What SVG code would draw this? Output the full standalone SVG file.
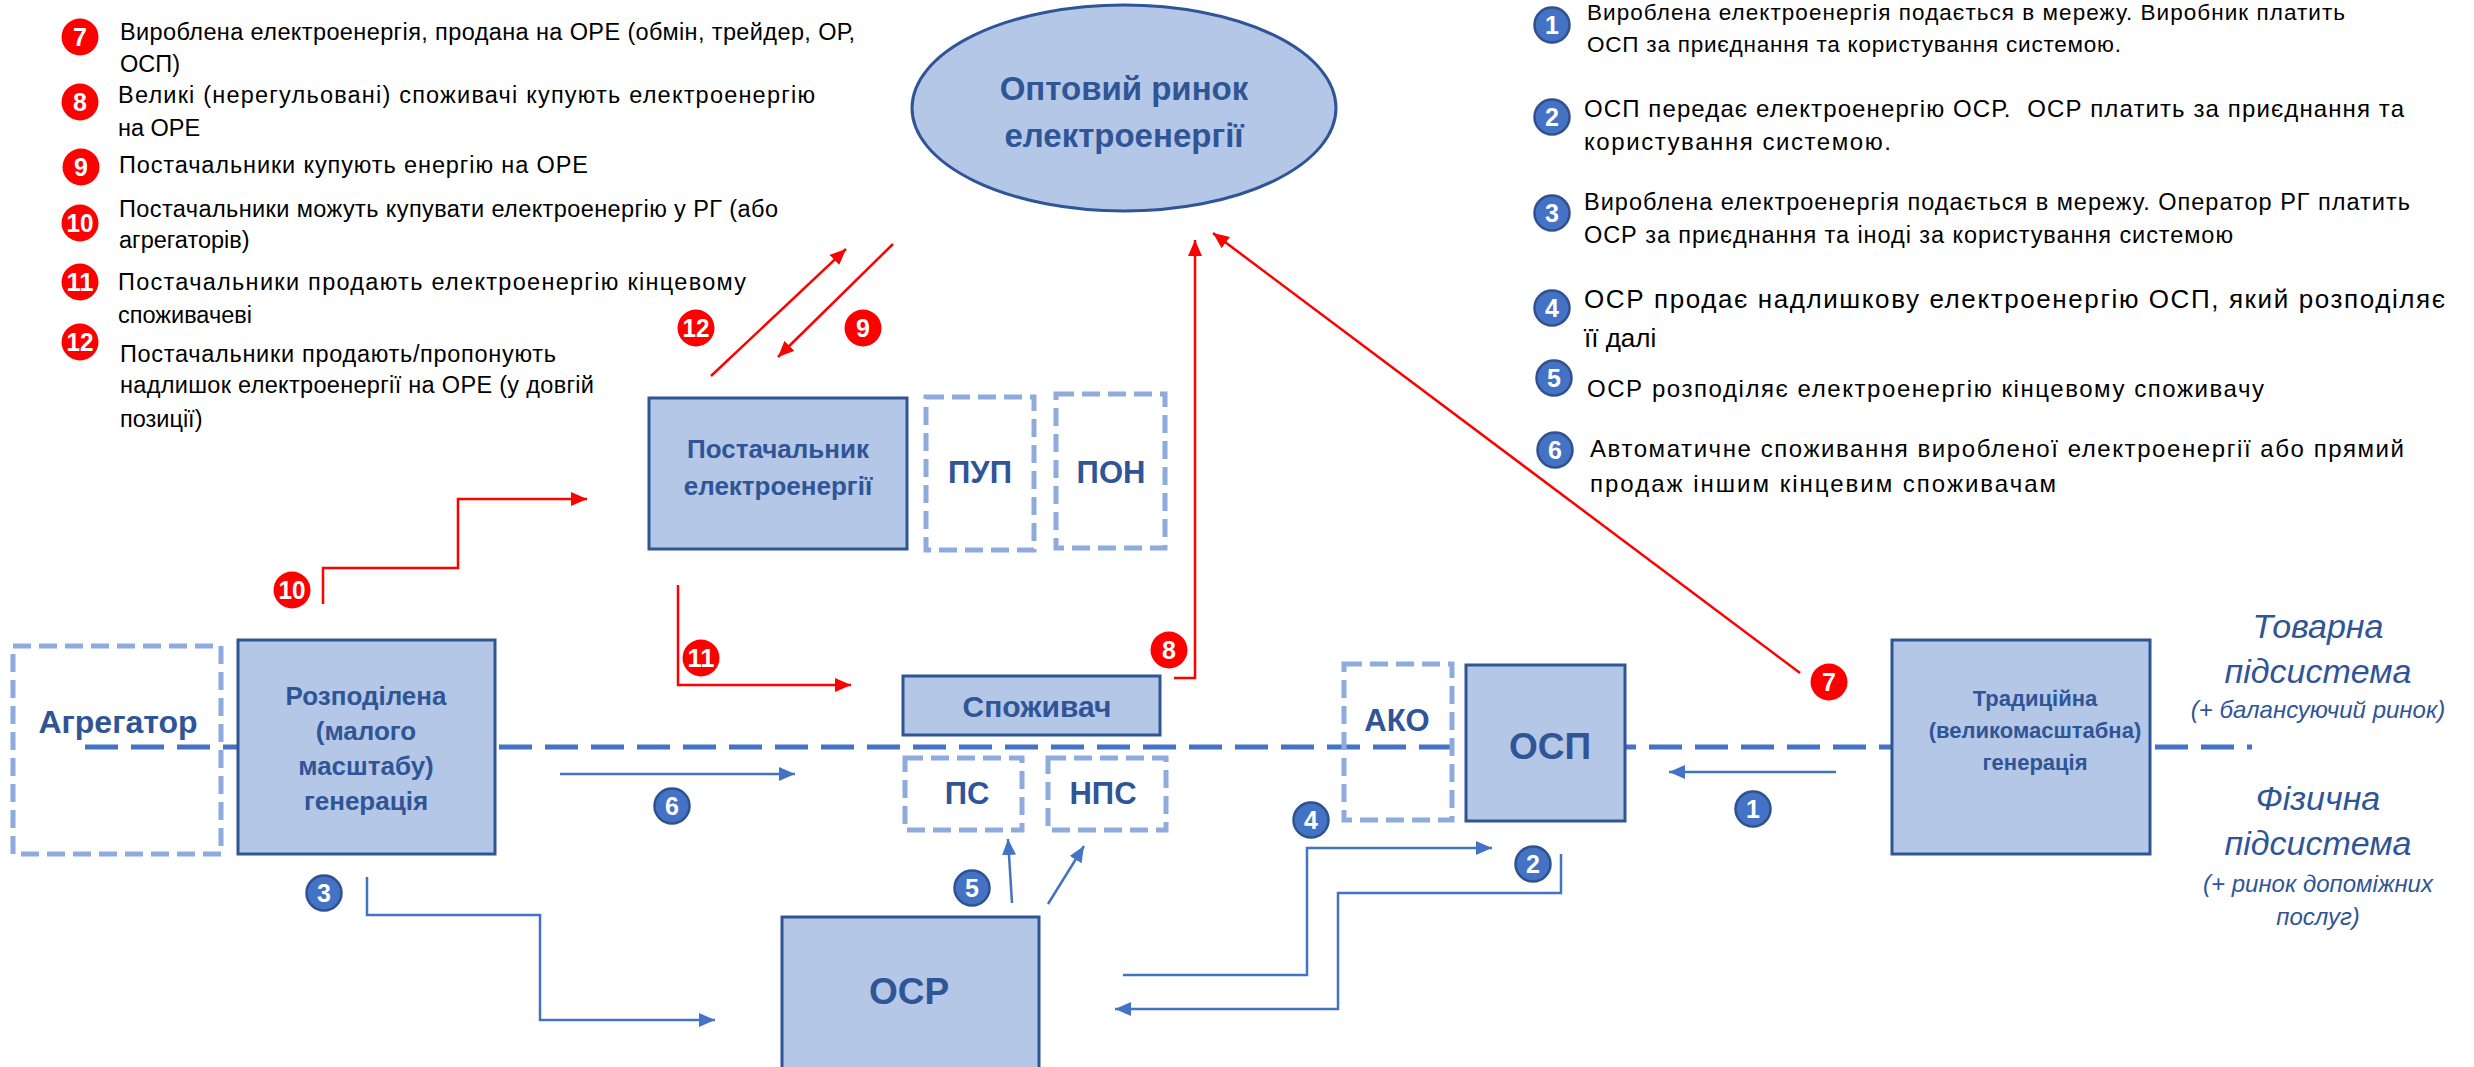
<svg xmlns="http://www.w3.org/2000/svg" width="2474" height="1067" viewBox="0 0 2474 1067">
<style>
.box{fill:#B4C7E7;stroke:#2F5597;stroke-width:3}
.dbox{fill:none;stroke:#8FAADC;stroke-width:5;stroke-dasharray:18 8}
.nt{font-family:"Liberation Sans",Arial,sans-serif;font-weight:bold;fill:#2F5597;text-anchor:middle}
.it{font-family:"Liberation Sans",Arial,sans-serif;font-style:italic;fill:#2F5597;text-anchor:middle}
.lt{font-family:"Liberation Sans",Arial,sans-serif;fill:#000}
.red{fill:none;stroke:#FF0000;stroke-width:2.5}
.blue{fill:none;stroke:#4472C4;stroke-width:2.5}
.rb{fill:#FF0000}
.bb{fill:#4472C4;stroke:#2F528F;stroke-width:2.5}
.bn{font-family:"Liberation Sans",Arial,sans-serif;font-weight:bold;fill:#fff;text-anchor:middle;font-size:25px}
</style>
<defs>
<marker id="ar" viewBox="0 0 16 14" refX="16" refY="7" markerWidth="16" markerHeight="14" markerUnits="userSpaceOnUse" orient="auto"><path d="M0,0 L16,7 L0,14 z" fill="#FF0000"/></marker>
<marker id="ab" viewBox="0 0 16 14" refX="16" refY="7" markerWidth="16" markerHeight="14" markerUnits="userSpaceOnUse" orient="auto"><path d="M0,0 L16,7 L0,14 z" fill="#4472C4"/></marker>
</defs>
<rect width="2474" height="1067" fill="#fff"/>

<!-- subsystem divider -->
<line x1="85" y1="747" x2="2252" y2="747" stroke="#4472C4" stroke-width="5" stroke-dasharray="33 13"/>

<g id="market">
<ellipse cx="1124" cy="108" rx="212" ry="103" class="box"/>
<text class="nt" font-size="33" x="1124" y="100">Оптовий ринок</text>
<text class="nt" font-size="33" x="1124" y="147">електроенергії</text>
</g>
<g id="supplier">
<rect x="649" y="398" width="258" height="151" class="box"/>
<text class="nt" font-size="26" x="778" y="458">Постачальник</text>
<text class="nt" font-size="26" x="778" y="495">електроенергії</text>
</g>
<g id="pup">
<rect x="926" y="397" width="108" height="153" class="dbox"/>
<text class="nt" font-size="31" x="980" y="483">ПУП</text>
</g>
<g id="pon">
<rect x="1056" y="394" width="109" height="154" class="dbox"/>
<text class="nt" font-size="31" x="1111" y="483">ПОН</text>
</g>
<g id="aggregator">
<rect x="13" y="646" width="208" height="208" class="dbox"/>
<text class="nt" font-size="32" x="118" y="733">Агрегатор</text>
</g>
<g id="distgen">
<rect x="238" y="640" width="257" height="214" class="box"/>
<text class="nt" font-size="26" x="366" y="705">Розподілена</text>
<text class="nt" font-size="26" x="366" y="740">(малого</text>
<text class="nt" font-size="26" x="366" y="775">масштабу)</text>
<text class="nt" font-size="26" x="366" y="810">генерація</text>
</g>
<g id="consumer">
<rect x="903" y="676" width="257" height="59" class="box"/>
<text class="nt" font-size="30" x="1037" y="717">Споживач</text>
</g>
<g id="ps">
<rect x="905" y="758" width="117" height="72" class="dbox"/>
<text class="nt" font-size="31" x="967" y="804">ПС</text>
</g>
<g id="nps">
<rect x="1048" y="758" width="118" height="72" class="dbox"/>
<text class="nt" font-size="31" x="1103" y="804">НПС</text>
</g>
<g id="osr">
<rect x="782" y="917" width="257" height="170" class="box"/>
<text class="nt" font-size="37" x="909" y="1004">ОСР</text>
</g>
<g id="ako">
<rect x="1344" y="664" width="108" height="156" class="dbox"/>
<text class="nt" font-size="31" x="1397" y="731">АКО</text>
</g>
<g id="osp">
<rect x="1466" y="665" width="159" height="156" class="box"/>
<text class="nt" font-size="37" x="1550" y="759">ОСП</text>
</g>
<g id="tradgen">
<rect x="1892" y="640" width="258" height="214" class="box"/>
<text class="nt" font-size="22" x="2035" y="706">Традиційна</text>
<text class="nt" font-size="22" x="2035" y="738">(великомасштабна)</text>
<text class="nt" font-size="22" x="2035" y="770">генерація</text>
</g>

<g id="connectors">
<line class="red" x1="711" y1="376" x2="846" y2="249" marker-end="url(#ar)"/>
<line class="red" x1="893" y1="244" x2="778" y2="357" marker-end="url(#ar)"/>
<polyline class="red" points="323,604 323,568 458,568 458,499 587,499" marker-end="url(#ar)"/>
<polyline class="red" points="678,585 678,685 851,685" marker-end="url(#ar)"/>
<polyline class="red" points="1174,678 1195,678 1195,240" marker-end="url(#ar)"/>
<line class="red" x1="1800" y1="673" x2="1213" y2="233" marker-end="url(#ar)"/>
<line class="blue" x1="560" y1="774" x2="795" y2="774" marker-end="url(#ab)"/>
<polyline class="blue" points="367,877 367,915 540,915 540,1020 715,1020" marker-end="url(#ab)"/>
<line class="blue" x1="1012" y1="903" x2="1008" y2="839" marker-end="url(#ab)"/>
<line class="blue" x1="1048" y1="904" x2="1084" y2="846" marker-end="url(#ab)"/>
<polyline class="blue" points="1123,975 1307,975 1307,848 1492,848" marker-end="url(#ab)"/>
<polyline class="blue" points="1561,854 1561,893 1338,893 1338,1009 1115,1009" marker-end="url(#ab)"/>
<line class="blue" x1="1836" y1="772" x2="1669" y2="772" marker-end="url(#ab)"/>
</g>

<g id="diagram-badges">
<circle class="rb" cx="696" cy="328" r="18.5"/><text class="bn" x="696" y="337" textLength="27" lengthAdjust="spacingAndGlyphs">12</text>
<circle class="rb" cx="863" cy="328" r="18.5"/><text class="bn" x="863" y="337">9</text>
<circle class="rb" cx="292" cy="590" r="18.5"/><text class="bn" x="292" y="599" textLength="27" lengthAdjust="spacingAndGlyphs">10</text>
<circle class="rb" cx="701" cy="658" r="18.5"/><text class="bn" x="701" y="667" textLength="27" lengthAdjust="spacingAndGlyphs">11</text>
<circle class="rb" cx="1169" cy="650" r="18.5"/><text class="bn" x="1169" y="659">8</text>
<circle class="rb" cx="1829" cy="682" r="18.5"/><text class="bn" x="1829" y="691">7</text>
<circle class="bb" cx="672" cy="806" r="17.5"/><text class="bn" x="672" y="815">6</text>
<circle class="bb" cx="324" cy="893" r="17.5"/><text class="bn" x="324" y="902">3</text>
<circle class="bb" cx="972" cy="888" r="17.5"/><text class="bn" x="972" y="897">5</text>
<circle class="bb" cx="1311" cy="820" r="17.5"/><text class="bn" x="1311" y="829">4</text>
<circle class="bb" cx="1533" cy="864" r="17.5"/><text class="bn" x="1533" y="873">2</text>
<circle class="bb" cx="1753" cy="809" r="17.5"/><text class="bn" x="1753" y="818">1</text>
</g>

<g id="legend-left">
<circle class="rb" cx="80" cy="37" r="18.5"/><text class="bn" x="80" y="46">7</text>
<circle class="rb" cx="80" cy="102" r="18.5"/><text class="bn" x="80" y="111">8</text>
<circle class="rb" cx="81" cy="167" r="18.5"/><text class="bn" x="81" y="176">9</text>
<circle class="rb" cx="80" cy="223" r="18.5"/><text class="bn" x="80" y="232" textLength="27" lengthAdjust="spacingAndGlyphs">10</text>
<circle class="rb" cx="80" cy="282" r="18.5"/><text class="bn" x="80" y="291" textLength="27" lengthAdjust="spacingAndGlyphs">11</text>
<circle class="rb" cx="80" cy="342" r="18.5"/><text class="bn" x="80" y="351" textLength="27" lengthAdjust="spacingAndGlyphs">12</text>
<text class="lt" font-size="23.5" x="120" y="40" textLength="735">Вироблена електроенергія, продана на ОРЕ (обмін, трейдер, ОР,</text>
<text class="lt" font-size="23.5" x="120" y="72">ОСП)</text>
<text class="lt" font-size="23.5" x="118" y="103" textLength="697">Великі (нерегульовані) споживачі купують електроенергію</text>
<text class="lt" font-size="23.5" x="118" y="136">на ОРЕ</text>
<text class="lt" font-size="23.5" x="119" y="173" textLength="469">Постачальники купують енергію на ОРЕ</text>
<text class="lt" font-size="23.5" x="119" y="217" textLength="659">Постачальники можуть купувати електроенергію у РГ (або</text>
<text class="lt" font-size="23.5" x="119" y="248">агрегаторів)</text>
<text class="lt" font-size="23.5" x="118" y="290" textLength="628">Постачальники продають електроенергію кінцевому</text>
<text class="lt" font-size="23.5" x="118" y="323">споживачеві</text>
<text class="lt" font-size="23.5" x="120" y="362" textLength="436">Постачальники продають/пропонують</text>
<text class="lt" font-size="23.5" x="120" y="393" textLength="474">надлишок електроенергії на ОРЕ (у довгій</text>
<text class="lt" font-size="23.5" x="120" y="427">позиції)</text>
</g>

<g id="legend-right">
<circle class="bb" cx="1552" cy="25" r="17.5"/><text class="bn" x="1552" y="34">1</text>
<circle class="bb" cx="1552" cy="117" r="17.5"/><text class="bn" x="1552" y="126">2</text>
<circle class="bb" cx="1552" cy="213" r="17.5"/><text class="bn" x="1552" y="222">3</text>
<circle class="bb" cx="1552" cy="308" r="17.5"/><text class="bn" x="1552" y="317">4</text>
<circle class="bb" cx="1554" cy="378" r="17.5"/><text class="bn" x="1554" y="387">5</text>
<circle class="bb" cx="1555" cy="450" r="17.5"/><text class="bn" x="1555" y="459">6</text>
<text class="lt" font-size="22.5" x="1587" y="20" textLength="758">Вироблена електроенергія подається в мережу. Виробник платить</text>
<text class="lt" font-size="22.5" x="1587" y="52" textLength="534">ОСП за приєднання та користування системою.</text>
<text class="lt" font-size="24" x="1584" y="117" textLength="820" xml:space="preserve">ОСП передає електроенергію ОСР.  ОСР платить за приєднання та</text>
<text class="lt" font-size="24" x="1584" y="150" textLength="307">користування системою.</text>
<text class="lt" font-size="23.5" x="1584" y="210" textLength="826">Вироблена електроенергія подається в мережу. Оператор РГ платить</text>
<text class="lt" font-size="23.5" x="1584" y="243" textLength="649">ОСР за приєднання та іноді за користування системою</text>
<text class="lt" font-size="26" x="1584" y="308" textLength="861">ОСР продає надлишкову електроенергію ОСП, який розподіляє</text>
<text class="lt" font-size="26" x="1584" y="347">її далі</text>
<text class="lt" font-size="24" x="1587" y="397" textLength="677">ОСР розподіляє електроенергію кінцевому споживачу</text>
<text class="lt" font-size="24" x="1590" y="457" textLength="814">Автоматичне споживання виробленої електроенергії або прямий</text>
<text class="lt" font-size="24" x="1590" y="492" textLength="466">продаж іншим кінцевим споживачам</text>
</g>

<g id="subsystem-labels">
<text class="it" font-size="34" x="2318" y="638">Товарна</text>
<text class="it" font-size="34" x="2318" y="683">підсистема</text>
<text class="it" font-size="24" x="2318" y="718">(+ балансуючий ринок)</text>
<text class="it" font-size="34" x="2318" y="810">Фізична</text>
<text class="it" font-size="34" x="2318" y="855">підсистема</text>
<text class="it" font-size="24" x="2318" y="892">(+ ринок допоміжних</text>
<text class="it" font-size="24" x="2318" y="925">послуг)</text>
</g>
</svg>
